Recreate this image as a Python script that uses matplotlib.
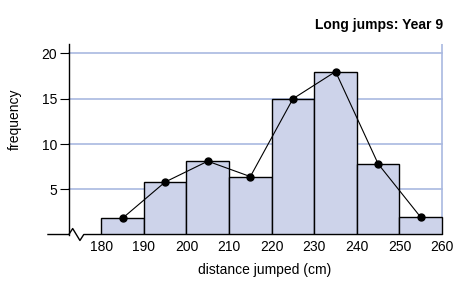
import matplotlib
matplotlib.use('Agg')
import matplotlib.pyplot as plt
import numpy as np

# histogram data: class boundaries (cm) and frequencies
edges = [180, 190, 200, 210, 220, 230, 240, 250, 260]
freq = [1.8, 5.8, 8.1, 6.4, 15.0, 18.0, 7.8, 1.9]
yticks = [5, 10, 15, 20]
xticks = [180, 190, 200, 210, 220, 230, 240, 250, 260]

plt.rcParams['font.family'] = ['Liberation Sans', 'DejaVu Sans']

bar_fill = '#cdd3ea'
grid_col = '#a9b9e0'

fig = plt.figure(figsize=(4.6, 2.82), dpi=100)
ax = fig.add_axes([0.1043, 0.1684, 0.866, 0.674])

x0, x1 = 167.5, 261.0
yaxis_x = 172.4
ax.set_xlim(x0, x1)
ax.set_ylim(0, 21)

# grid lines and right border in light blue
for yv in yticks:
    ax.plot([yaxis_x, edges[-1]], [yv, yv], color=grid_col, lw=1.2, zorder=1)
ax.plot([edges[-1], edges[-1]], [0, 21], color=grid_col, lw=1.2, zorder=1)

# bars
lefts = np.array(edges[:-1])
widths = np.diff(edges)
ax.bar(lefts, freq, width=widths, align='edge', color=bar_fill,
       edgecolor='black', linewidth=1.0, zorder=2)

# frequency polygon through midpoints
mids = lefts + widths / 2
ax.plot(mids, freq, color='black', lw=0.8, marker='o', markersize=5, zorder=3)

# axes styling
for s in ['top', 'right', 'bottom']:
    ax.spines[s].set_visible(False)
ax.spines['left'].set_position(('data', yaxis_x))
ax.spines['left'].set_linewidth(1.0)
ax.set_yticks(yticks)
ax.set_xticks(xticks)
ax.tick_params(axis='y', length=6.5, width=0.8, labelsize=10, pad=2)
ax.tick_params(axis='x', length=0, labelsize=10, pad=4)

# bottom axis with a broken-axis zigzag near the origin
ax.plot([x0, yaxis_x, 173.3, 175.0, 175.9, edges[-1]],
        [0, 0, 0.66, -0.66, 0, 0], color='black', lw=1.0,
        clip_on=False, zorder=4)

ax.set_xlabel('distance jumped (cm)', fontsize=10, va='center')
ax.xaxis.set_label_coords(0.543, -0.187)
ax.set_ylabel('frequency', fontsize=10, va='center', ha='center')
ax.yaxis.set_label_coords(-0.083, 0.608)

fig.text(443 / 460, 1 - 25 / 282, 'Long jumps: Year 9', ha='right', va='center',
         fontsize=10, fontweight='bold')

fig.savefig('out.png', dpi=100)
